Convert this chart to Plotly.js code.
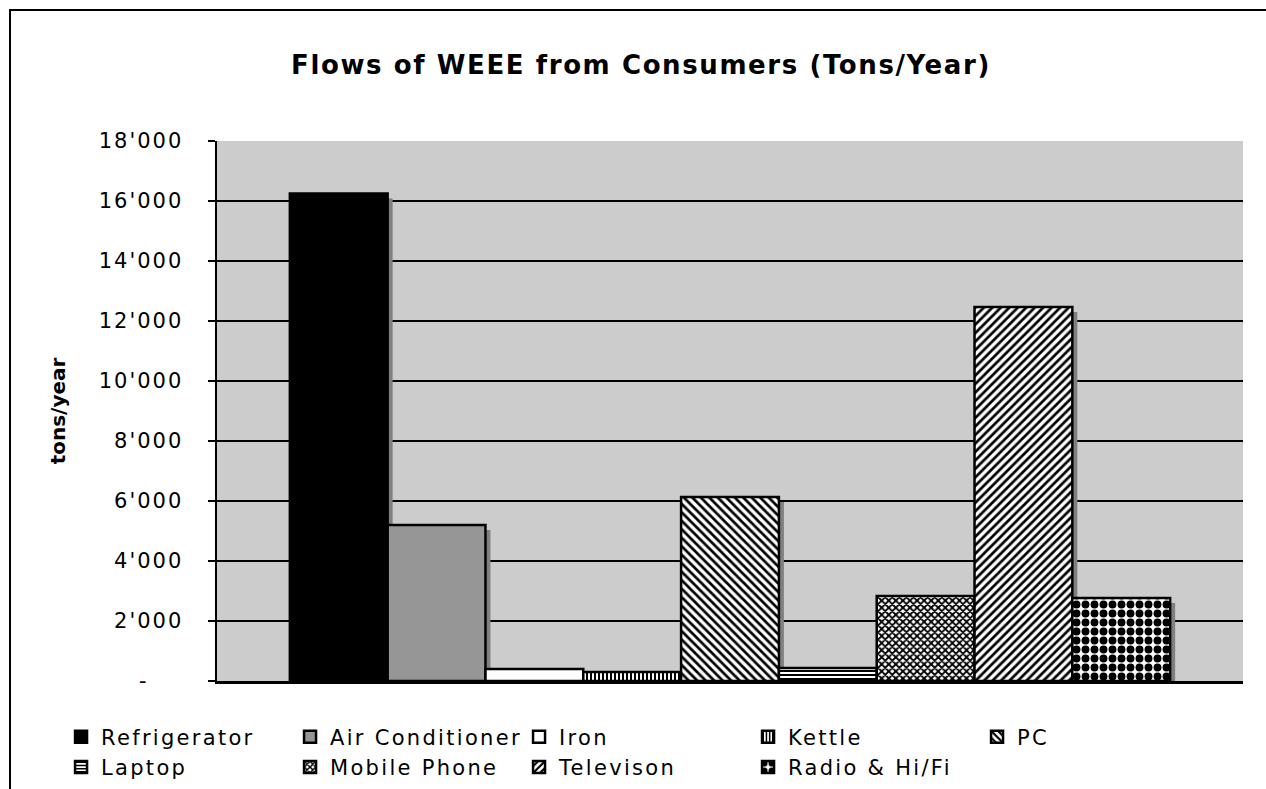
<!DOCTYPE html>
<html>
<head>
<meta charset="utf-8">
<script src="https://cdn.plot.ly/plotly-3.0.1.min.js"></script>
<style>
  html, body { margin: 0; padding: 0; background: #ffffff; }
  #chart { width: 1266px; height: 789px; }
  .y2tick text { letter-spacing: 2px; }
  .legendtext { letter-spacing: 2.3px; }
  .gtitle { letter-spacing: 1.6px; }
</style>
</head>
<body>
<div id="chart"></div>
<script>
// ---- data ----
const categories = ['WEEE'];
const seriesNames = ['Refrigerator', 'Air Conditioner', 'Iron', 'Kettle', 'PC',
                     'Laptop', 'Mobile Phone', 'Televison', 'Radio & Hi/Fi'];
const seriesValues = [16250, 5200, 400, 300, 6130, 430, 2830, 12470, 2770];
const tickValues = [0, 2000, 4000, 6000, 8000, 10000, 12000, 14000, 16000, 18000];
const tickLabels = ['-\u00a0\u00a0\u00a0\u00a0', "2'000", "4'000", "6'000", "8'000",
                    "10'000", "12'000", "14'000", "16'000", "18'000"];

// ---- styles ----
const fillColors = ['#000000', '#969696', '#ffffff', '#ffffff', '#ffffff',
                    '#ffffff', '#ffffff', '#ffffff', '#ffffff'];
const patterns = [
  null, null, null,
  {shape: '|', size: 4, solidity: 0.5},
  {shape: '\\', size: 6, solidity: 0.45},
  {shape: '-', size: 4, solidity: 0.5},
  {shape: 'x', size: 5, solidity: 0.6},
  {shape: '/', size: 6, solidity: 0.45},
  {shape: '.', size: 9, solidity: 0.6}
];

const plotW = 1026, plotH = 540, yMax = 18000, shadowPx = 5;
const dx = shadowPx / plotW;
const dy = shadowPx * yMax / plotH;

const traces = [];
// shadows (base subplot, shifted axes)
seriesNames.forEach((name, i) => {
  traces.push({
    type: 'bar', x: categories, y: [seriesValues[i]], name: name,
    xaxis: 'x', yaxis: 'y', showlegend: false, hoverinfo: 'skip',
    marker: {color: '#808080', line: {width: 0}}
  });
});
// real bars (overlay subplot)
seriesNames.forEach((name, i) => {
  const m = {color: fillColors[i], line: {color: '#000000', width: 2.5}};
  if (patterns[i]) {
    m.pattern = Object.assign({fgcolor: '#000000', bgcolor: '#ffffff', fillmode: 'replace'}, patterns[i]);
  }
  traces.push({
    type: 'bar', x: categories, y: [seriesValues[i]], name: name,
    xaxis: 'x2', yaxis: 'y2', marker: m
  });
});

const layout = {
  width: 1266, height: 789,
  paper_bgcolor: '#ffffff', plot_bgcolor: '#cccccc',
  margin: {l: 217, r: 23, t: 141, b: 108, autoexpand: false},
  barmode: 'group', bargap: 0.142, bargroupgap: 0,
  font: {family: 'DejaVu Sans', color: '#000000', size: 21},
  title: {
    text: 'Flows of WEEE from Consumers (Tons/Year)',
    font: {family: 'DejaVu Sans', size: 26, weight: 'bold', color: '#000000'},
    x: 641 / 1266, xanchor: 'center', xref: 'container',
    y: 1 - 65 / 789, yanchor: 'middle', yref: 'container'
  },
  xaxis: {
    type: 'category', range: [-0.5 - dx, 0.5 - dx], visible: false, fixedrange: true
  },
  yaxis: {
    range: [dy, yMax + dy], visible: false, fixedrange: true
  },
  xaxis2: {
    type: 'category', overlaying: 'x', range: [-0.5, 0.5],
    showticklabels: false, ticks: '', showgrid: false,
    showline: true, linecolor: '#000000', linewidth: 3, zeroline: false
  },
  yaxis2: {
    overlaying: 'y', side: 'left', range: [0, yMax],
    tickmode: 'array', tickvals: tickValues, ticktext: tickLabels,
    ticks: 'outside', ticklen: 7, tickwidth: 2, tickcolor: '#000000',
    ticklabelstandoff: 20,
    tickfont: {family: 'DejaVu Sans', size: 21, color: '#000000'},
    showgrid: true, gridcolor: '#000000', gridwidth: 2.5,
    showline: true, linecolor: '#000000', linewidth: 2.5, zeroline: false,
    title: {text: 'tons/year', standoff: 28,
            font: {family: 'DejaVu Sans', size: 20, weight: 'bold', color: '#000000'}}
  },
  showlegend: true,
  legend: {
    orientation: 'h', x: -0.152, xanchor: 'left', y: -0.066, yanchor: 'top',
    entrywidth: 184, entrywidthmode: 'pixels',
    font: {family: 'DejaVu Sans', size: 21, color: '#000000'},
    bgcolor: 'rgba(0,0,0,0)', traceorder: 'normal', itemclick: false
  },
  shapes: [{
    type: 'rect', xref: 'paper', yref: 'paper',
    x0: (10 - 217) / plotW, x1: 1.2, y0: -0.5, y1: (681 - 10) / plotH,
    line: {color: '#000000', width: 2}, fillcolor: 'rgba(0,0,0,0)', layer: 'below'
  }]
};

Plotly.newPlot('chart', traces, layout, {displayModeBar: false, staticPlot: true});
</script>
</body>
</html>
